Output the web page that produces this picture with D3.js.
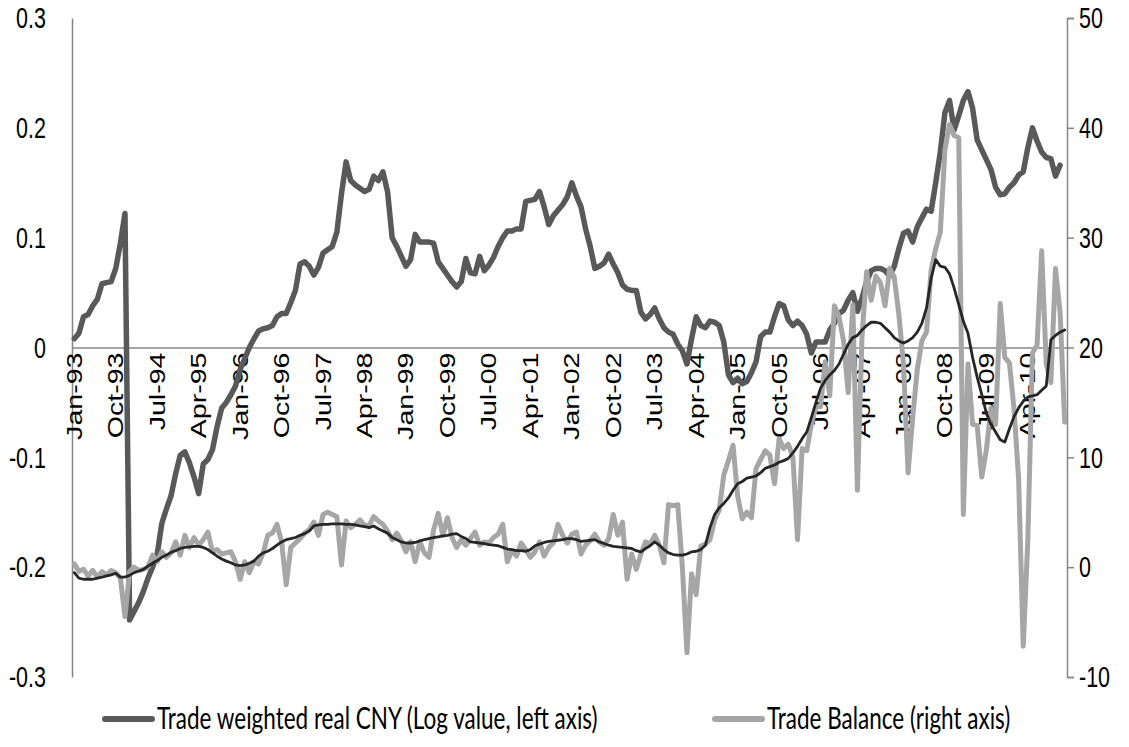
<!DOCTYPE html>
<html>
<head>
<meta charset="utf-8">
<script src="https://cdn.jsdelivr.net/npm/d3@7/dist/d3.min.js"></script>
<style>
    body { margin: 0; background: #fff; }
    svg { display: block; font-family: Lato, "Liberation Sans", sans-serif; }
</style>
</head>
<body>
<script>
// ---- data ----
const monthNames = ["Jan", "Feb", "Mar", "Apr", "May", "Jun", "Jul", "Aug", "Sep", "Oct", "Nov", "Dec"];
const years = ["93", "94", "95", "96", "97", "98", "99", "00", "01", "02",
    "03", "04", "05", "06", "07", "08", "09", "10"];
const categories = years.flatMap(y => monthNames.map(m => m + "-" + y));

const tickLabels = ["Jan-93", "Oct-93", "Jul-94", "Apr-95", "Jan-96", "Oct-96", "Jul-97", "Apr-98",
    "Jan-99", "Oct-99", "Jul-00", "Apr-01", "Jan-02", "Oct-02", "Jul-03", "Apr-04",
    "Jan-05", "Oct-05", "Jul-06", "Apr-07", "Jan-08", "Oct-08", "Jul-09", "Apr-10"];

const leftTicks = [-0.3, -0.2, -0.1, 0, 0.1, 0.2, 0.3];
const rightTicks = [-10, 0, 10, 20, 30, 40, 50];

// Trade weighted real CNY, log value (left axis), Jan-93 .. Nov-10
const cny = [
    0.008, 0.013, 0.028, 0.030, 0.038, 0.044, 0.058, 0.059, 0.060, 0.072, 0.095, 0.122,
    -0.248, -0.240, -0.232, -0.222, -0.210, -0.200, -0.188, -0.160, -0.147, -0.135, -0.115, -0.098,
    -0.095, -0.105, -0.118, -0.133, -0.106, -0.102, -0.093, -0.072, -0.055, -0.050, -0.043, -0.035,
    -0.020, -0.010, 0.000, 0.008, 0.015, 0.017, 0.018, 0.020, 0.028, 0.031, 0.031, 0.041,
    0.052, 0.076, 0.078, 0.074, 0.066, 0.073, 0.086, 0.089, 0.092, 0.105, 0.140, 0.169,
    0.152, 0.148, 0.145, 0.142, 0.144, 0.156, 0.152, 0.160, 0.142, 0.100, 0.092, 0.083,
    0.074, 0.080, 0.103, 0.096, 0.096, 0.096, 0.095, 0.078, 0.072, 0.066, 0.060, 0.055,
    0.060, 0.081, 0.068, 0.067, 0.083, 0.070, 0.075, 0.082, 0.092, 0.100, 0.106, 0.106,
    0.108, 0.108, 0.133, 0.134, 0.135, 0.142, 0.128, 0.112, 0.120, 0.125, 0.130, 0.137,
    0.150, 0.138, 0.128, 0.108, 0.092, 0.072, 0.074, 0.077, 0.085, 0.076, 0.068, 0.057,
    0.053, 0.052, 0.052, 0.032, 0.026, 0.030, 0.036, 0.026, 0.018, 0.014, 0.012, 0.003,
    -0.003, -0.015, 0.008, 0.028, 0.020, 0.018, 0.024, 0.023, 0.020, 0.005, -0.025, -0.032,
    -0.028, -0.033, -0.031, -0.023, -0.013, 0.010, 0.014, 0.014, 0.028, 0.040, 0.038, 0.025,
    0.020, 0.024, 0.020, 0.012, -0.005, 0.005, 0.005, 0.005, 0.016, 0.022, 0.031, 0.034,
    0.043, 0.050, 0.033, 0.045, 0.060, 0.070, 0.072, 0.072, 0.070, 0.065, 0.074, 0.090,
    0.104, 0.106, 0.096, 0.110, 0.118, 0.126, 0.124, 0.150, 0.178, 0.214, 0.225, 0.198,
    0.211, 0.225, 0.233, 0.218, 0.189, 0.180, 0.171, 0.162, 0.146, 0.139, 0.140, 0.146,
    0.150, 0.157, 0.160, 0.182, 0.200, 0.188, 0.178, 0.173, 0.172, 0.156, 0.166, null
];

// Trade Balance (right axis), Jan-93 .. Dec-10
const tradeBalance = [
    0.3, -0.4, -0.2, -0.8, -0.3, -0.9, -0.4, -0.7, -0.3, -0.5, -1.0, -4.5,
    -0.4, 0.0, -0.3, -0.2, 0.0, 1.1, 0.5, 1.4, 0.9, 1.3, 2.3, 1.1,
    2.9, 1.8, 2.7, 2.0, 2.5, 3.2, 1.4, 1.6, 1.2, 1.3, 1.4, 0.5,
    -1.1, 0.5, -0.5, 0.5, 0.3, 1.3, 2.9, 3.1, 3.9, 2.3, -1.6, 1.8,
    2.2, 2.6, 3.1, 3.4, 4.1, 2.9, 4.8, 5.0, 4.8, 4.6, 0.2, 4.2,
    3.6, 3.9, 4.3, 3.8, 3.8, 4.6, 4.2, 3.9, 3.3, 2.5, 3.1, 2.4,
    1.4, 2.3, 0.5, 2.3, 1.3, 0.9, 3.4, 4.9, 2.9, 4.5, 2.7, 1.8,
    2.5, 2.0, 2.6, 3.2, 2.0, 2.3, 2.2, 2.7, 3.0, 3.9, 0.5, 1.5,
    1.0, 2.2, 1.6, 0.9, 1.4, 2.3, 1.0, 1.8, 2.2, 3.9, 2.9, 2.2,
    3.0, 3.2, 1.2, 2.0, 2.4, 3.0, 2.3, 2.0, 2.6, 4.8, 2.9, 4.1,
    -1.1, 1.2, -0.2, 1.2, 2.3, 2.1, 2.9, 2.0, 0.4, 5.7, 5.6, 5.7,
    0.0, -7.8, -0.6, -2.5, 1.9, 2.1, 2.5, 4.3, 5.2, 8.4, 9.7, 11.1,
    6.5, 4.4, 5.0, 4.5, 9.0, 9.8, 10.6, 10.2, 7.6, 11.7, 10.8, 11.2,
    10.0, 2.5, 10.8, 10.6, 13.0, 14.6, 14.6, 18.7, 15.6, 23.8, 22.8, 20.6,
    15.9, 23.9, 7.0, 21.0, 26.9, 24.3, 26.5, 25.9, 23.8, 27.2, 26.4, 23.0,
    18.5, 8.6, 13.6, 18.0, 20.6, 21.4, 27.0, 29.0, 30.5, 38.0, 40.3, 39.3,
    39.1, 4.8, 18.5, 13.0, 12.9, 8.2, 10.7, 14.5, 13.0, 24.0, 19.1, 18.6,
    14.4, 8.0, -7.2, 2.5, 19.5, 20.2, 28.8, 18.5, 16.8, 27.2, 23.2, 13.2
];

// unlabelled dark trend line, in right axis units
const trend = [
    -0.5, -1.0, -1.1, -1.1, -1.1, -1.0, -0.9, -0.8, -0.7, -0.55, -0.9, -0.9,
    -0.75, -0.5, -0.35, -0.2, 0.1, 0.35, 0.6, 0.9, 1.1, 1.35, 1.5, 1.7,
    1.8, 1.85, 1.9, 1.9, 1.8, 1.6, 1.3, 1.0, 0.75, 0.55, 0.4, 0.2,
    0.15, 0.2, 0.35, 0.55, 1.0, 1.3, 1.45, 1.7, 2.0, 2.3, 2.5, 2.6,
    2.7, 2.9, 3.05, 3.3, 3.75, 3.85, 3.9, 3.9, 3.95, 3.95, 3.95, 3.9,
    3.9, 3.85, 3.75, 3.7, 3.6, 3.75, 3.5, 3.3, 3.1, 2.7, 2.5, 2.3,
    2.2, 2.2, 2.25, 2.4, 2.5, 2.6, 2.7, 2.75, 2.85, 2.9, 3.0, 3.05,
    2.8, 2.6, 2.3, 2.25, 2.2, 2.15, 2.05, 2.0, 1.95, 1.8, 1.65, 1.6,
    1.5, 1.5, 1.45, 1.6, 1.95, 2.1, 2.25, 2.35, 2.4, 2.45, 2.5, 2.6,
    2.6, 2.5, 2.35, 2.4, 2.45, 2.5, 2.3, 2.15, 2.0, 1.9, 1.85, 1.8,
    1.75, 1.7, 1.5, 1.4, 1.7, 1.95, 2.3, 2.0, 1.6, 1.3, 1.15, 1.1,
    1.1, 1.2, 1.4, 1.45, 1.6, 2.0, 3.6, 4.8, 5.4, 5.8, 6.3, 7.0,
    7.6, 7.8, 8.1, 8.2, 8.3, 8.6, 9.0, 9.15, 9.3, 9.55, 9.7, 9.9,
    10.4, 11.0, 11.7, 12.3, 13.6, 15.0, 16.3, 17.0, 17.5, 17.9, 18.5, 19.4,
    20.3, 20.9, 21.1, 21.6, 22.0, 22.3, 22.3, 22.2, 21.8, 21.4, 20.9, 20.6,
    20.4, 20.6, 20.9, 21.4, 22.2, 23.6, 26.3, 28.0, 27.4, 27.3, 26.7, 25.4,
    23.9, 22.4, 21.3, 19.1, 17.3, 15.7, 14.0, 13.0, 12.3, 11.6, 11.4, 12.6,
    13.7, 14.5, 15.1, 15.5, 15.6, 15.7, 16.1, 16.5, 20.7, 21.1, 21.4, 21.6
];

// ---- layout ----
const width = 1129, height = 747;
const plot = {left: 72, right: 1067, top: 18, bottom: 677};
const axisColor = "#868686";
const fontSize = "21.5px";
// the reference text is drawn taller than it is wide
const stretch = "scale(1,1.33)";

const svg = d3.select("body")
    .append("svg")
    .attr("width", width)
    .attr("height", height);

svg.append("rect")
    .attr("width", width)
    .attr("height", height)
    .attr("fill", "#fff");

let x = d3.scaleBand()
    .domain(categories)
    .range([plot.left, plot.right])
    .padding(0);

let yLeft = d3.scaleLinear()
    .domain([-0.3, 0.3])
    .range([plot.bottom, plot.top]);

let yRight = d3.scaleLinear()
    .domain([-10, 50])
    .range([plot.bottom, plot.top]);

function xMid(i){
    return x(categories[i]) + x.bandwidth() / 2;
}

/* ------- AXES -------*/
let leftAxis = svg.append("g")
    .attr("transform", "translate(" + plot.left + ",0)")
    .call(d3.axisLeft(yLeft)
        .tickValues(leftTicks)
        .tickSize(0)
        .tickFormat(d => String(d)));

leftAxis.selectAll("text")
    .attr("x", 0)
    .attr("dy", "0.34em")
    .attr("transform", "translate(-26,0) " + stretch);

let rightAxis = svg.append("g")
    .attr("transform", "translate(" + plot.right + ",0)")
    .call(d3.axisRight(yRight)
        .tickValues(rightTicks)
        .tickSize(7)
        .tickFormat(d => String(d)));

rightAxis.selectAll("text")
    .attr("x", 0)
    .attr("dy", "0.34em")
    .attr("transform", "translate(12,0) " + stretch);

// category axis sits on the zero line of the left scale
let bottomAxis = svg.append("g")
    .attr("transform", "translate(0," + yLeft(0) + ")")
    .call(d3.axisBottom(x)
        .tickValues(tickLabels)
        .tickSize(0)
        .tickPadding(0));

bottomAxis.selectAll("text")
    .attr("text-anchor", "end")
    .attr("x", 0)
    .attr("y", 0)
    .attr("dy", "0.35em")
    .attr("transform", "translate(0,5) " + stretch + " rotate(-90)");

svg.selectAll(".domain")
    .attr("stroke", axisColor)
    .attr("stroke-width", 1.5);
svg.selectAll(".tick line")
    .attr("stroke", axisColor)
    .attr("stroke-width", 1.5);
svg.selectAll(".tick text")
    .attr("fill", "#000")
    .style("font-size", fontSize);

/* ------- LINES -------*/
let lineLeft = d3.line()
    .defined(d => d != null)
    .x((d, i) => xMid(i))
    .y(d => yLeft(d));

let lineRight = d3.line()
    .defined(d => d != null)
    .x((d, i) => xMid(i))
    .y(d => yRight(d));

svg.append("path")
    .datum(cny)
    .attr("fill", "none")
    .attr("stroke", "#595959")
    .attr("stroke-width", 5.5)
    .attr("stroke-linejoin", "round")
    .attr("stroke-linecap", "round")
    .attr("d", lineLeft);

svg.append("path")
    .datum(tradeBalance)
    .attr("fill", "none")
    .attr("stroke", "#a6a6a6")
    .attr("stroke-width", 5)
    .attr("stroke-linejoin", "round")
    .attr("stroke-linecap", "round")
    .attr("d", lineRight);

svg.append("path")
    .datum(trend)
    .attr("fill", "none")
    .attr("stroke", "#262626")
    .attr("stroke-width", 2.8)
    .attr("stroke-linejoin", "round")
    .attr("stroke-linecap", "round")
    .attr("d", lineRight);

/* ------- LEGEND -------*/
const legendItems = [
    {label: "Trade weighted real CNY (Log value, left axis)", color: "#595959", x: 105},
    {label: "Trade Balance (right axis)", color: "#a6a6a6", x: 715}
];

let legend = svg.append("g")
    .attr("class", "legend")
    .selectAll("g")
    .data(legendItems)
    .enter()
    .append("g")
    .attr("transform", d => "translate(" + d.x + ",719)");

legend.append("line")
    .attr("x1", 0)
    .attr("x2", 47)
    .attr("stroke", d => d.color)
    .attr("stroke-width", 6)
    .attr("stroke-linecap", "round");

legend.append("text")
    .attr("x", 0)
    .attr("dy", "0.34em")
    .attr("transform", "translate(52,0) " + stretch)
    .style("font-size", "22.5px")
    .attr("fill", "#000")
    .text(d => d.label);
</script>
</body>
</html>
